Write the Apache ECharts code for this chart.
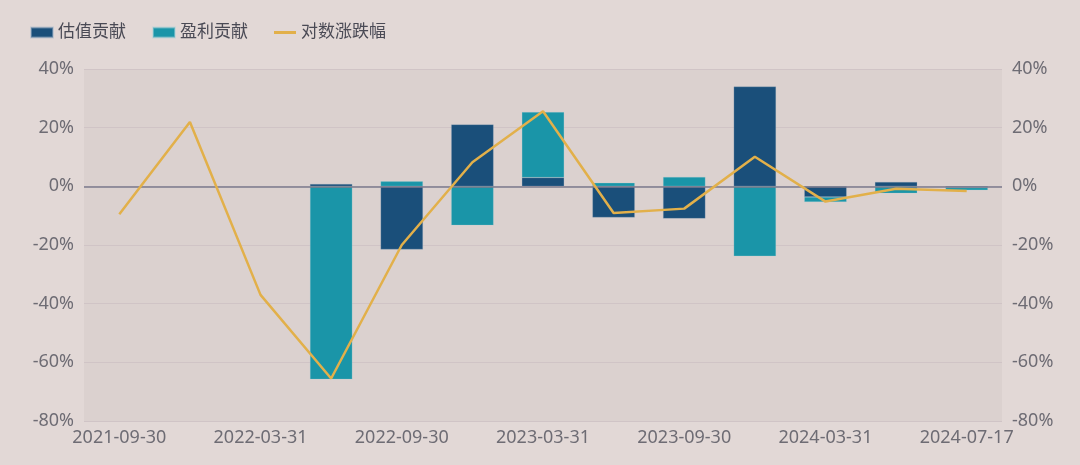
<!DOCTYPE html>
<html><head><meta charset="utf-8">
<style>html,body{margin:0;padding:0;background:#e2d8d6;}#c{width:1080px;height:465px;}</style>
<script src="https://cdn.jsdelivr.net/npm/echarts@6/dist/echarts.min.js"></script>
</head><body><div id="c"></div>
<script>
const categories = ['2021-09-30','2021-12-31','2022-03-31','2022-06-30','2022-09-30','2022-12-31','2023-03-31','2023-06-30','2023-09-30','2023-12-31','2024-03-31','2024-06-30','2024-07-17'];
const valuation = [null, null, null, 0.8, -21.5, 21.1, 3.0, -10.6, -11.0, 34.0, -3.6, 1.5, -0.4];
const earnings = [null, null, null, -65.8, 1.7, -13.3, 22.3, 1.2, 3.2, -23.8, -1.7, -2.4, -0.9];
const logReturn = [-9.5, 21.9, -37.0, -65.5, -20.0, 8.2, 25.6, -9.1, -7.6, 10.1, -5.2, -0.8, -1.6];
const yTicks = [-80, -60, -40, -20, 0, 20, 40];

const font = '"Noto Sans","Noto Sans CJK SC",sans-serif';
const txt = '#6e6c74';
const chart = echarts.init(document.getElementById('c'));
const yAxisBase = {
  type: 'value', min: yTicks[0], max: yTicks[yTicks.length-1], interval: 20,
  axisLine: {show: false}, axisTick: {show: false},
  axisLabel: {formatter: '{value}%', color: txt, fontSize: 18, fontFamily: font, margin: 10},
  splitLine: {lineStyle: {color: '#d0c4c6', width: 1}}
};
chart.setOption({
  backgroundColor: '#e2d8d6',
  textStyle: {fontFamily: font},
  legend: {
    left: 25, top: 19, itemWidth: 22, itemHeight: 10, itemGap: 26,
    textStyle: {color: '#4a4a55', fontSize: 17, fontFamily: font},
    data: [{name: '估值贡献', icon: 'rect'}, {name: '盈利贡献', icon: 'rect'},
           {name: '对数涨跌幅', icon: 'path://M0 0H22V3H0Z'}]
  },
  grid: {left: 84, right: 78, top: 69, bottom: 44, show: true, backgroundColor: '#dbd1cf', borderWidth: 0},
  xAxis: {
    type: 'category', data: categories, boundaryGap: true,
    axisLine: {show: false}, axisTick: {show: false},
    axisLabel: {interval: 1, color: txt, fontSize: 18, fontFamily: font, margin: 8}
  },
  yAxis: [Object.assign({}, yAxisBase), Object.assign({}, yAxisBase, {position: 'right'})],
  series: [
    {name: '估值贡献', type: 'bar', stack: 'a', data: valuation, barWidth: '60%',
     itemStyle: {color: '#1a4f7a', borderColor: 'rgba(160,180,200,0.5)', borderWidth: 0.5},
     markLine: {silent: true, symbol: 'none', label: {show: false},
       lineStyle: {color: '#7b7a8c', type: 'solid', width: 1.5}, data: [{yAxis: 0}]}},
    {name: '盈利贡献', type: 'bar', stack: 'a', data: earnings, barWidth: '60%',
     itemStyle: {color: '#1a95a8', borderColor: 'rgba(170,210,215,0.5)', borderWidth: 0.5}},
    {name: '对数涨跌幅', type: 'line', data: logReturn, symbol: 'none',
     lineStyle: {color: '#e2b04a', width: 2.5}, itemStyle: {color: '#e2b04a'}, z: 5}
  ]
});
</script></body></html>
